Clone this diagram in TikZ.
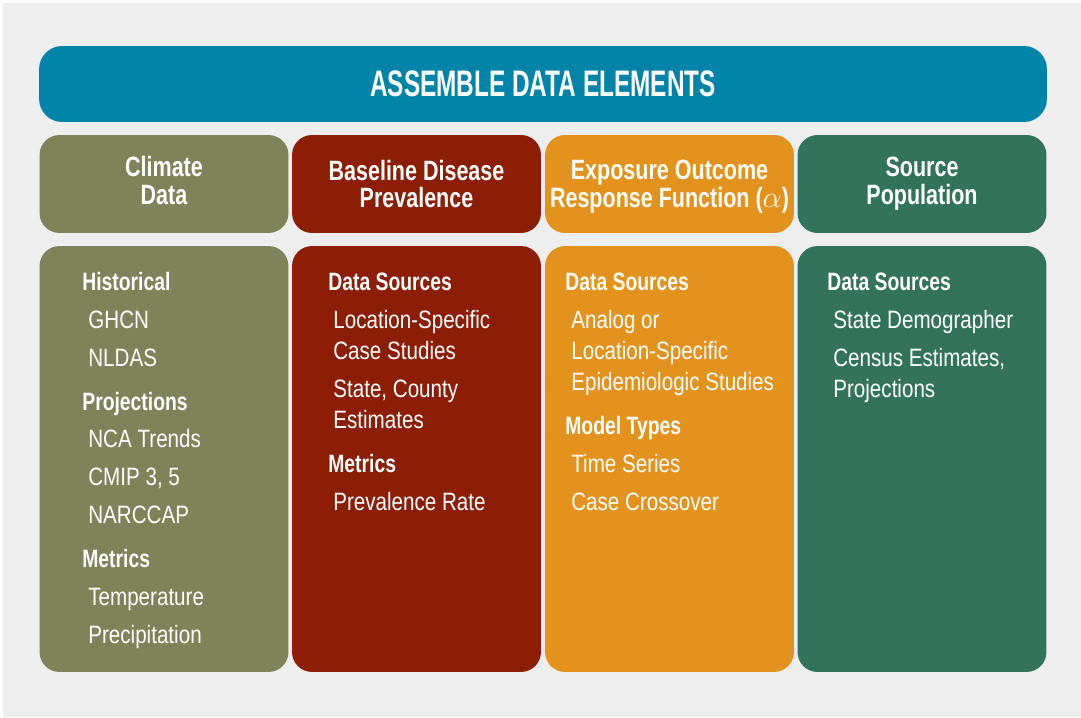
\documentclass[tikz,border=0pt]{standalone}
\usepackage{fontspec}
\setmainfont{Liberation Sans}[FakeStretch=0.82]
\newfontfamily\condbold{Liberation Sans}[FakeStretch=0.77]
\newfontfamily\titlefont{Liberation Sans}[FakeStretch=0.66]

\definecolor{bggray}{RGB}{238,238,238}
\definecolor{teal}{RGB}{0,131,168}
\definecolor{olive}{RGB}{127,131,89}
\definecolor{rust}{RGB}{139,30,4}
\definecolor{amber}{RGB}{227,146,29}
\definecolor{pine}{RGB}{52,115,91}

\tikzset{
  box/.style={rounded corners=0.4cm, minimum width=4.98cm, inner sep=0, text=white},
  headbox/.style={box, minimum height=1.96cm},
  headtext/.style={inner sep=0, text=white, align=center,
    font=\condbold\bfseries\fontsize{15.9}{15.9}\selectfont},
  bodybox/.style={box, minimum height=8.52cm},
  subhead/.style={anchor=base west, inner sep=0, text=white,
    font=\condbold\bfseries\fontsize{14.3}{17.6}\selectfont},
  entry/.style={anchor=base west, inner sep=0, text=white,
    font=\fontsize{14.3}{17.6}\selectfont}
}

\begin{document}
\begin{tikzpicture}[x=0.02cm, y=-0.02cm]
\fill[white] (0,0) rectangle (1081,717);
\fill[bggray] (3,3) rectangle (1081,717);

% banner
\node (banner) at (543,84) [fill=teal, rounded corners=0.46cm, minimum width=20.16cm,
  minimum height=1.52cm, text=white, font=\titlefont\bfseries\fontsize{21}{21}\selectfont]
  {ASSEMBLE DATA ELEMENTS};

% column heads
\node (climhead) at (164,184) [headbox, fill=olive] {};
\node (basehead) at (416.5,184) [headbox, fill=rust] {};
\node (expohead) at (669.5,184) [headbox, fill=amber] {};
\node (pophead) at (922,184) [headbox, fill=pine] {};
\node (climtitle) at (164,180.5) [headtext] {Climate\\Data};
\node (basetitle) at (416.5,184) [headtext] {Baseline Disease\\Prevalence};
\node (expotitle) at (669.5,187) [headtext] {Exposure Outcome\\Response Function ($\alpha$)};
\node (poptitle) at (922,184) [headtext] {Source\\Population};

% column bodies
\node (climbody) at (164,459) [bodybox, fill=olive] {};
\node (basebody) at (416.5,459) [bodybox, fill=rust] {};
\node (expobody) at (669.5,459) [bodybox, fill=amber] {};
\node (popbody) at (922,459) [bodybox, fill=pine] {};

% climate data
\node (cl1) at (82,290) [subhead] {Historical};
\node (cl2) at (88,328) [entry] {GHCN};
\node (cl3) at (88,366) [entry] {NLDAS};
\node (cl4) at (82,410) [subhead] {Projections};
\node (cl5) at (88,447) [entry] {NCA Trends};
\node (cl6) at (88,485) [entry] {CMIP 3, 5};
\node (cl7) at (88,523) [entry] {NARCCAP};
\node (cl8) at (82,567) [subhead] {Metrics};
\node (cl9) at (88,605) [entry] {Temperature};
\node (cl10) at (88,643) [entry] {Precipitation};

% baseline disease prevalence
\node (bd1) at (328,290) [subhead] {Data Sources};
\node (bd2) at (333,328) [entry] {Location-Specific};
\node (bd3) at (333,359) [entry] {Case Studies};
\node (bd4) at (333,397) [entry] {State, County};
\node (bd5) at (333,428) [entry] {Estimates};
\node (bd6) at (328,472) [subhead] {Metrics};
\node (bd7) at (333,510) [entry] {Prevalence Rate};

% exposure outcome response function
\node (ex1) at (565,290) [subhead] {Data Sources};
\node (ex2) at (571,328) [entry] {Analog or};
\node (ex3) at (571,359) [entry] {Location-Specific};
\node (ex4) at (571,390) [entry] {Epidemiologic Studies};
\node (ex5) at (565,434) [subhead] {Model Types};
\node (ex6) at (571,472) [entry] {Time Series};
\node (ex7) at (571,510) [entry] {Case Crossover};

% source population
\node (sp1) at (827,290) [subhead] {Data Sources};
\node (sp2) at (833,328) [entry] {State Demographer};
\node (sp3) at (833,366) [entry] {Census Estimates,};
\node (sp4) at (833,397) [entry] {Projections};

\end{tikzpicture}
\end{document}
